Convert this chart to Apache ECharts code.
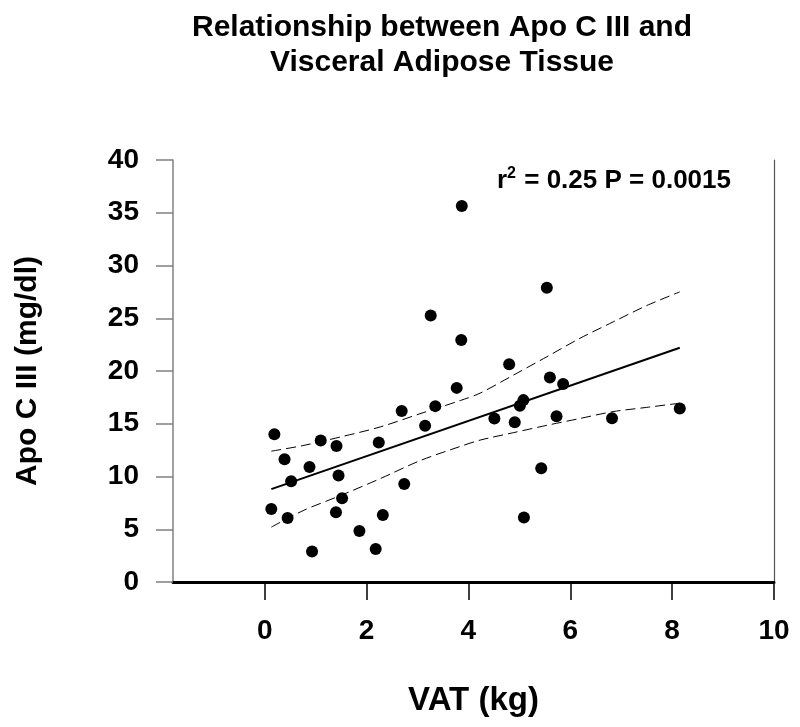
<!DOCTYPE html>
<html>
<head>
<meta charset="utf-8">
<script src="https://cdn.jsdelivr.net/npm/echarts@6/dist/echarts.min.js"></script>
<style>
html,body{margin:0;padding:0;background:#fff;}
#chart{width:800px;height:727px;}
</style>
</head>
<body>
<div id="chart"></div>
<script>
// ---- data ----
var vatKg = [0.19,0.39,0.52,0.13,0.45,0.88,0.93,1.10,1.41,1.45,1.52,1.40,1.86,2.18,2.32,2.24,2.74,2.69,3.15,3.35,3.77,3.87,3.26,3.86,5.54,4.80,5.60,5.86,5.08,5.01,4.51,4.91,5.73,6.82,8.15,5.43,5.09];
var apoC3 = [14.0,11.64,9.55,6.93,6.07,10.91,2.88,13.42,12.9,10.09,7.94,6.61,4.84,3.13,6.36,13.22,9.3,16.2,14.8,16.67,18.4,35.65,25.27,22.93,27.9,20.63,19.39,18.76,17.24,16.7,15.5,15.15,15.72,15.53,16.45,10.79,6.11];

var fitX = [0.13, 8.15];
var fitY = [8.8, 22.2];

var bandX = [0.13, 0.77, 1.49, 2.27, 3.05, 3.84, 4.23, 4.88, 5.54, 6.19, 6.84, 7.50, 8.15];
var bandUpper = [12.4, 12.95, 13.75, 14.7, 15.95, 17.2, 17.9, 19.6, 21.35, 23.1, 24.65, 26.2, 27.5];
var bandLower = [5.2, 6.8, 8.2, 9.8, 11.5, 12.85, 13.45, 14.15, 14.85, 15.5, 16.15, 16.55, 16.95];

var xTicks = [0, 2, 4, 6, 8, 10];

var titleText = 'Relationship between Apo C III and\nVisceral Adipose Tissue';
var xName = 'VAT (kg)';
var yName = 'Apo C III (mg/dl)';

// ---- build ----
function zip(a, b) { return a.map(function (v, i) { return [v, b[i]]; }); }
var FONT = '"Liberation Sans", Arial, Helvetica, sans-serif';

var chart = echarts.init(document.getElementById('chart'), null, {renderer: 'canvas'});
var option = {
  backgroundColor: '#ffffff',
  animation: false,
  title: {
    text: titleText,
    left: 437,
    top: 5,
    textAlign: 'center',
    textStyle: {fontFamily: FONT, fontSize: 30, fontWeight: 'bold', color: '#000', lineHeight: 35}
  },
  grid: {left: 173, right: 26, top: 160, bottom: 145, containLabel: false, outerBoundsMode: 'none'},
  xAxis: {
    type: 'value',
    min: -1.8,
    max: 10,
    name: xName,
    nameLocation: 'middle',
    nameGap: 102,
    nameTextStyle: {fontFamily: FONT, fontSize: 33, fontWeight: 'bold', color: '#000'},
    axisLine: {show: true, onZero: false, lineStyle: {color: '#000', width: 3}},
    axisTick: {show: true, length: 18, inside: false, customValues: xTicks, lineStyle: {color: '#000', width: 1.5}},
    axisLabel: {customValues: xTicks, margin: 35, fontFamily: FONT, fontSize: 28, fontWeight: 'bold', color: '#000'},
    splitLine: {show: false}
  },
  yAxis: [{
    type: 'value',
    min: 0,
    max: 40,
    interval: 5,
    name: yName,
    nameLocation: 'middle',
    nameGap: 130,
    nameTextStyle: {fontFamily: FONT, fontSize: 30, fontWeight: 'bold', color: '#000'},
    axisLine: {show: true, onZero: false, lineStyle: {color: '#808080', width: 1.5}},
    axisTick: {show: true, length: 17, inside: false, lineStyle: {color: '#808080', width: 1.5}},
    axisLabel: {margin: 34, fontFamily: FONT, fontSize: 28, fontWeight: 'bold', color: '#000'},
    splitLine: {show: false}
  }, {
    type: 'value',
    position: 'right',
    min: 0,
    max: 40,
    interval: 5,
    axisLine: {show: true, onZero: false, lineStyle: {color: '#555', width: 1.2}},
    axisTick: {show: false},
    axisLabel: {show: false},
    splitLine: {show: false}
  }],
  graphic: [{
    type: 'text',
    left: 497,
    top: 166,
    style: {
      text: '{a|r}{b|2}{a| = 0.25 P = 0.0015}',
      rich: {
        a: {fontFamily: FONT, fontSize: 26, fontWeight: 'bold', fill: '#000', lineHeight: 29},
        b: {fontFamily: FONT, fontSize: 16, fontWeight: 'bold', fill: '#000', verticalAlign: 'top', lineHeight: 29, padding: [0, 1, 9, 0]}
      }
    }
  }],
  series: [{
    type: 'line',
    data: zip(bandX, bandUpper),
    smooth: 0.3,
    showSymbol: false,
    silent: true,
    lineStyle: {color: '#000', width: 1, type: [10, 5]},
    z: 2
  }, {
    type: 'line',
    data: zip(bandX, bandLower),
    smooth: 0.3,
    showSymbol: false,
    silent: true,
    lineStyle: {color: '#000', width: 1, type: [10, 5]},
    z: 2
  }, {
    type: 'line',
    data: zip(fitX, fitY),
    showSymbol: false,
    silent: true,
    lineStyle: {color: '#000', width: 2},
    z: 3
  }, {
    type: 'scatter',
    data: zip(vatKg, apoC3),
    symbol: 'circle',
    symbolSize: 12,
    itemStyle: {color: '#000', opacity: 1},
    z: 4
  }]
};
chart.setOption(option);
</script>
</body>
</html>
